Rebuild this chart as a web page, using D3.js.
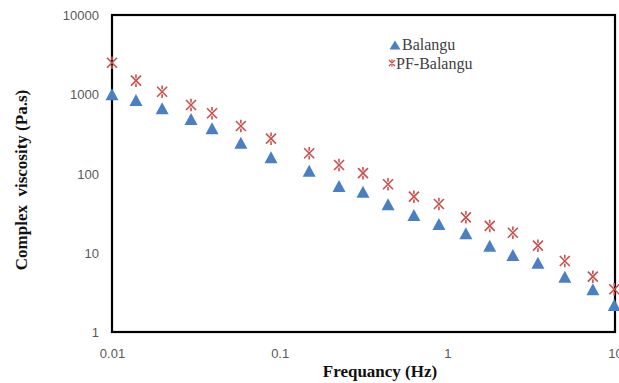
<!DOCTYPE html>
<html><head><meta charset="utf-8">
<script src="https://cdn.jsdelivr.net/npm/d3@7"></script>
<style>body{margin:0;background:#fff}svg{display:block}</style>
</head><body>
<svg id="chart" width="619" height="383"></svg>
<script>
const frequency = [0.01, 0.0139, 0.0199, 0.0296, 0.0395, 0.0587, 0.0888, 0.150, 0.226, 0.314, 0.443, 0.632, 0.891, 1.29, 1.79, 2.46, 3.47, 5.02, 7.38, 9.9];
const balangu = [1000, 846, 665, 487, 372, 245, 160, 108, 69.5, 58.9, 40.8, 29.9, 23.1, 17.6, 12.3, 9.37, 7.49, 4.99, 3.46, 2.19];
const pfBalangu = [2500, 1483, 1077, 731, 575, 397, 275, 180, 128, 101, 73.1, 51, 41.2, 28, 21.8, 17.9, 12.3, 7.87, 4.99, 3.46];
const xTicks = [0.01, 0.1, 1, 10];
const yTicks = [1, 10, 100, 1000, 10000];
const seriesNames = ["Balangu", "PF-Balangu"];

const svg = d3.select("#chart");
const m = {left: 112, right: 615, top: 15, bottom: 332};
const x = d3.scaleLog().domain([0.01, 10]).range([m.left, m.right]);
const y = d3.scaleLog().domain([1, 10000]).range([m.bottom, m.top]);

const xAxis = d3.axisBottom(x).tickValues(xTicks).tickFormat(d => String(d)).tickSize(0).tickPadding(0);
const yAxis = d3.axisLeft(y).tickValues(yTicks).tickFormat(d => String(d)).tickSize(0).tickPadding(0);

const gx = svg.append("g").attr("transform", `translate(0,${m.bottom + 26})`).call(xAxis);
const gy = svg.append("g").attr("transform", `translate(${m.left - 13},0)`).call(yAxis);
[gx, gy].forEach(g => {
  g.select(".domain").remove();
  g.selectAll("text").attr("font-family", "Liberation Sans, Arial, sans-serif")
    .attr("font-size", 13).attr("fill", "#595959");
});
gy.selectAll("text").attr("dy", "0.35em");
gx.selectAll("text").attr("dy", "0");

// frame
svg.append("rect").attr("x", m.left).attr("y", m.top)
  .attr("width", m.right - m.left).attr("height", m.bottom - m.top)
  .attr("fill", "none").attr("stroke", "#000").attr("stroke-width", 2.2);

// axis titles
svg.append("text").attr("x", 380).attr("y", 377).attr("text-anchor", "middle")
  .attr("font-family", "Liberation Serif, Times New Roman, serif").attr("font-weight", "bold")
  .attr("font-size", 17).attr("fill", "#111").text("Frequancy (Hz)");
svg.append("text").attr("transform", "translate(27,180) rotate(-90)").attr("text-anchor", "middle")
  .attr("font-family", "Liberation Serif, Times New Roman, serif").attr("font-weight", "bold")
  .attr("font-size", 17).attr("fill", "#111").attr("xml:space", "preserve").text("Complex  viscosity (Pa.s)");

const blue = "#4a7fc1", red = "#c9504d";
const triPath = (w, h) => `M0,${-h/2}L${w/2},${h/2}L${-w/2},${h/2}Z`;
const starPath = (r) => `M${-r},${-r}L${r},${r}M${-r},${r}L${r},${-r}M0,${-r*1.25}L0,${-r*0.5}M0,${r*0.5}L0,${r*1.25}`;

const dataB = frequency.map((f, i) => ({f, v: balangu[i]}));
const dataP = frequency.map((f, i) => ({f, v: pfBalangu[i]}));

svg.append("g").selectAll("path").data(dataB).join("path")
  .attr("transform", d => `translate(${x(d.f)},${y(d.v)})`)
  .attr("d", triPath(13, 12)).attr("fill", blue);
svg.append("g").selectAll("path").data(dataP).join("path")
  .attr("transform", d => `translate(${x(d.f)},${y(d.v)})`)
  .attr("d", starPath(5)).attr("fill", "none").attr("stroke", red).attr("stroke-width", 1.6);

// legend
const lg = svg.append("g");
lg.append("path").attr("transform", "translate(395,45)").attr("d", triPath(11, 9)).attr("fill", blue);
lg.append("path").attr("transform", "translate(392,63)").attr("d", starPath(3)).attr("fill", "none").attr("stroke", red).attr("stroke-width", 1.2);
lg.append("text").attr("x", 402).attr("y", 50).text(seriesNames[0]);
lg.append("text").attr("x", 396).attr("y", 69).text(seriesNames[1]);
lg.selectAll("text").attr("font-family", "Liberation Serif, Times New Roman, serif")
  .attr("font-size", 16).attr("fill", "#404040");
</script>
</body></html>
